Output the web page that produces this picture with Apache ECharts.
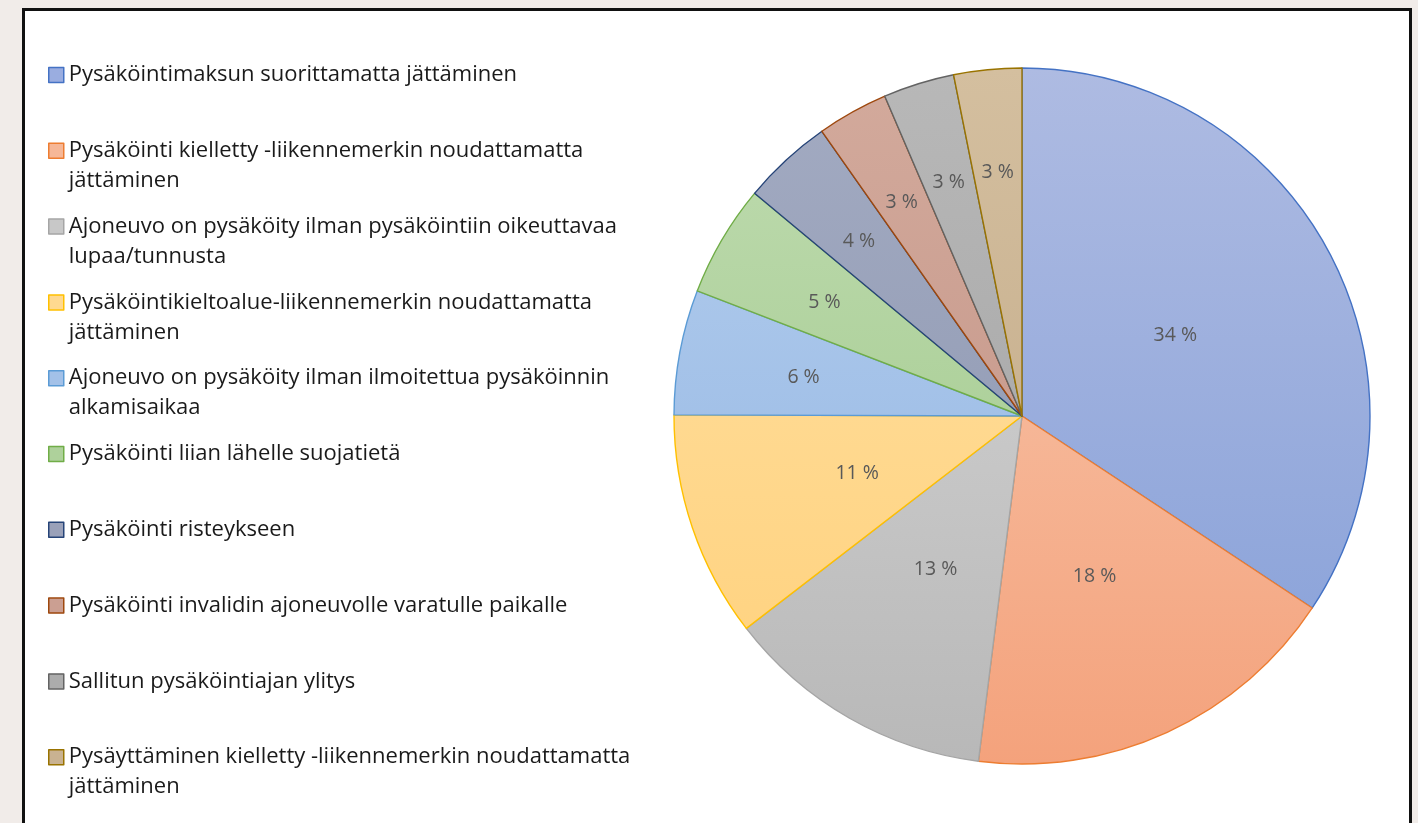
<!DOCTYPE html>
<html>
<head>
<meta charset="utf-8">
<script src="https://cdn.jsdelivr.net/npm/echarts@6/dist/echarts.min.js"></script>
<style>
  html, body { margin: 0; padding: 0; background: #f1ece9; }
  #chart { width: 1418px; height: 823px; }
</style>
</head>
<body>
<div id="chart"></div>
<script>
// Pysäköintivirheiden jakauma (%)
const categories = [
  'Pysäköintimaksun suorittamatta jättäminen',
  'Pysäköinti kielletty -liikennemerkin noudattamatta jättäminen',
  'Ajoneuvo on pysäköity ilman pysäköintiin oikeuttavaa lupaa/tunnusta',
  'Pysäköintikieltoalue-liikennemerkin noudattamatta jättäminen',
  'Ajoneuvo on pysäköity ilman ilmoitettua pysäköinnin alkamisaikaa',
  'Pysäköinti liian lähelle suojatietä',
  'Pysäköinti risteykseen',
  'Pysäköinti invalidin ajoneuvolle varatulle paikalle',
  'Sallitun pysäköintiajan ylitys',
  'Pysäyttäminen kielletty -liikennemerkin noudattamatta jättäminen'
];
const shares = [34.3, 17.7, 12.55, 10.5, 5.8, 5.2, 4.2, 3.3, 3.3, 3.15];

// Slice outline colours and the light/dark ends of each slice's fill
const edgeColors = ['#4472C4', '#ED7D31', '#A5A5A5', '#FFC000', '#5B9BD5', '#70AD47', '#264478', '#9E480E', '#636363', '#997300'];
const fillTop    = ['#aebbe2', '#f8cbb2', '#d9d9d9', '#ffe2a6', '#b6cfee', '#c0dcb1', '#a3abc2', '#d3aa9c', '#b8b8b8', '#d4bf9f'];
const fillBottom = ['#859fd8', '#f4a27c', '#b8b8b8', '#ffd07a', '#8fb3e2', '#9cc686', '#8a94ae', '#c09083', '#a0a0a0', '#bfa684'];
const fillMid    = ['#9aade0', '#f6b797', '#c8c8c8', '#ffd990', '#a3c1e8', '#aed19b', '#9aa1b9', '#cb9f92', '#acacac', '#c9b291'];

const CX = 1022, CY = 416, R = 348;
const FONT = '"Open Sans", "Noto Sans", sans-serif';
const LEGEND_SIZE = 22, LINE_H = 30, WRAP_W = 590;

// Word-wrap legend texts with the same font the legend uses
const measureCtx = document.createElement('canvas').getContext('2d');
measureCtx.font = LEGEND_SIZE + 'px ' + FONT;
function wrap(text) {
  const words = text.split(' ');
  const lines = [];
  let cur = '';
  words.forEach(w => {
    const t = cur ? cur + ' ' + w : w;
    if (cur && measureCtx.measureText(t).width > WRAP_W) { lines.push(cur); cur = w; }
    else cur = t;
  });
  lines.push(cur);
  return lines;
}

const chart = echarts.init(document.getElementById('chart'));

const legends = categories.map((name, i) => {
  const lines = wrap(name);
  const n = lines.length > 1 ? lines.length + 1 : 1;
  const firstLineY = 75 + i * 75.8;
  return {
    orient: 'vertical',
    left: 48,
    top: firstLineY - n * LINE_H / 2,
    padding: 0,
    selectedMode: false,
    itemWidth: 15,
    itemHeight: 15,
    icon: 'rect',
    data: [{ name: name, itemStyle: { color: fillMid[i], borderColor: edgeColors[i], borderWidth: 1.5 } }],
    formatter: () => (lines.length > 1 ? '\n' : '') + lines.join('\n'),
    textStyle: { fontFamily: FONT, fontSize: LEGEND_SIZE, color: '#1a1a1a', lineHeight: LINE_H }
  };
});

chart.setOption({
  animation: false,
  backgroundColor: '#f1ece9',
  graphic: [{
    type: 'rect', z: -10, silent: true,
    shape: { x: 23.5, y: 9.5, width: 1387, height: 900 },
    style: { fill: '#ffffff', stroke: '#111111', lineWidth: 3 }
  }],
  legend: legends,
  series: [{
    type: 'pie',
    center: [CX, CY],
    radius: R,
    startAngle: 90,
    clockwise: true,
    avoidLabelOverlap: false,
    data: categories.map((name, i) => ({
      name: name,
      value: shares[i],
      itemStyle: {
        color: new echarts.graphic.LinearGradient(0, CY - R, 0, CY + R, [
          { offset: 0, color: fillTop[i] },
          { offset: 1, color: fillBottom[i] }
        ], true),
        borderColor: edgeColors[i],
        borderWidth: 1.4
      }
    })),
    label: {
      show: true,
      position: 'inside',
      formatter: p => Math.round(p.percent) + ' %',
      fontFamily: FONT,
      fontSize: 19.5,
      color: '#595959'
    },
    // narrow slices keep their label further out, like a best-fit placement
    labelLayout: params => {
      const p = shares[params.dataIndex];
      const r = params.labelRect;
      const lx = r.x + r.width / 2, ly = r.y + r.height / 2;
      const dx = lx - CX, dy = ly - CY;
      const d = Math.sqrt(dx * dx + dy * dy) || 1;
      const k = p >= 10 ? 0.5 : Math.min(0.71, 0.5 + (10 - p) * 0.033);
      const s = k * R / d;
      return { x: CX + dx * s, y: CY + dy * s + 2, align: 'center', verticalAlign: 'middle' };
    },
    labelLine: { show: false },
    emphasis: { disabled: true }
  }]
});
</script>
</body>
</html>
